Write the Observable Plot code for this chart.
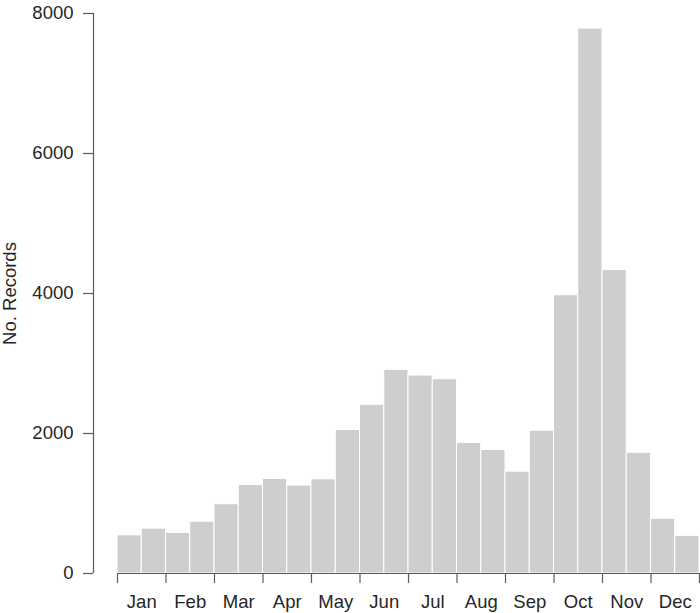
<!DOCTYPE html>
<html>
<head>
<meta charset="utf-8">
<script src="https://cdn.jsdelivr.net/npm/d3@7"></script>
<script src="https://cdn.jsdelivr.net/npm/@observablehq/plot@0.6"></script>
<style>
  html, body { margin: 0; padding: 0; background: #ffffff; }
  #chart svg { display: block; }
</style>
</head>
<body>
<div id="chart"></div>
<script>
const months = ["Jan", "Feb", "Mar", "Apr", "May", "Jun", "Jul", "Aug", "Sep", "Oct", "Nov", "Dec"];
// Two half-month bins per month
const counts = [545, 640, 580, 740, 990, 1265, 1350, 1257, 1345, 2050, 2410, 2910,
                2828, 2775, 1865, 1765, 1455, 2040, 3975, 7785, 4335, 1725, 783, 538];
const yTicks = [0, 2000, 4000, 6000, 8000];
const yLabel = "No. Records";

const data = counts.map((c, i) => ({start: i / 2, end: (i + 1) / 2, count: c}));
const monthStarts = d3.range(months.length + 1);
const monthCenters = months.map((m, i) => i + 0.5);

const textColor = "#262626";
const axisColor = "#5a5a5a";
const fs = 18.5;

const chart = Plot.plot({
  width: 700,
  height: 613,
  marginLeft: 117,
  marginRight: 1,
  marginTop: 13,
  marginBottom: 40,
  style: {fontFamily: "'Liberation Sans', Arial, sans-serif", fontSize: fs + "px", color: textColor, background: "#ffffff"},
  x: {domain: [0, 12], label: null},
  y: {domain: [0, 8000], label: null},
  marks: [
    Plot.rectY(data, {x1: "start", x2: "end", y: "count", fill: "#cdced0", stroke: "#ffffff", strokeWidth: 1}),
    Plot.ruleY([0], {stroke: axisColor, strokeWidth: 1.2}),
    Plot.axisX({ticks: monthStarts, tickSize: 10, tickFormat: () => "", stroke: axisColor, strokeWidth: 1.2}),
    Plot.axisX({ticks: monthCenters, tickSize: 0, tickPadding: 21, tickFormat: (d) => months[Math.floor(d)], fill: textColor, fontSize: fs}),
    Plot.ruleX([0], {y1: 0, y2: 8000, dx: -24, stroke: axisColor, strokeWidth: 1.2}),
    Plot.axisY({ticks: yTicks, tickSize: 10, tickPadding: 10, dx: -24, tickFormat: (d) => String(d), stroke: axisColor, strokeWidth: 1.2, fill: textColor, fontSize: fs}),
    Plot.text([yLabel], {frameAnchor: "left", textAnchor: "middle", rotate: -90, dx: -107, fill: textColor, fontSize: fs})
  ]
});
document.getElementById("chart").appendChild(chart);
</script>
</body>
</html>
